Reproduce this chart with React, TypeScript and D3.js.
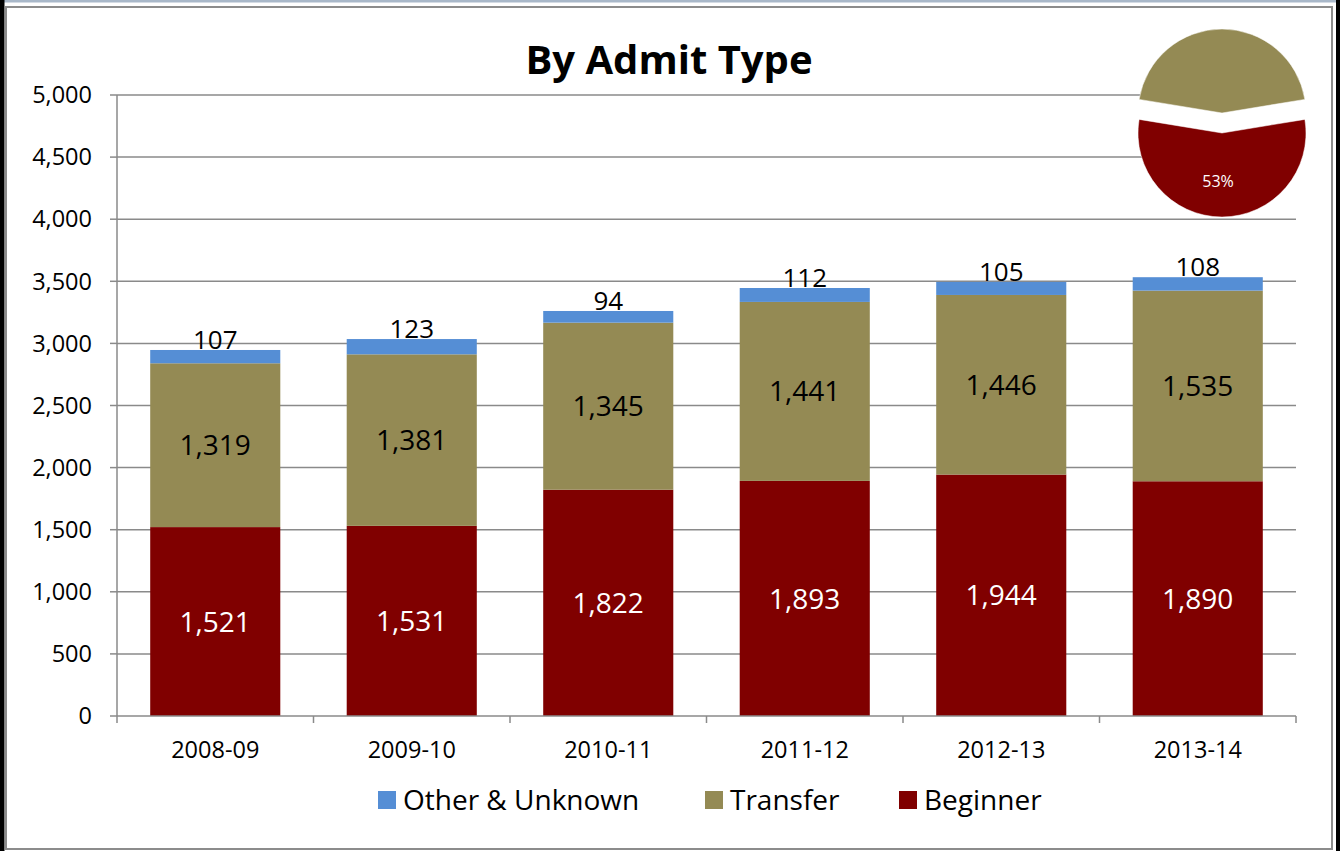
import React from "react";
import * as d3 from "d3";

const years = ["2008-09", "2009-10", "2010-11", "2011-12", "2012-13", "2013-14"];
const beginner = [1521, 1531, 1822, 1893, 1944, 1890];
const transfer = [1319, 1381, 1345, 1441, 1446, 1535];
const other = [107, 123, 94, 112, 105, 108];
const yTicks = [0, 500, 1000, 1500, 2000, 2500, 3000, 3500, 4000, 4500, 5000];
const seriesNames = ["Other & Unknown", "Transfer", "Beginner"];

const COLORS = { Beginner: "#800000", Transfer: "#948A54", Other: "#558ED5" };
const FONT = "'Open Sans', 'Noto Sans', sans-serif";
const GRID = "#8a8a8a";

export default function App() {
  const W = 1340, H = 851;
  const x0 = 117, x1 = 1296, yTop = 95, yBot = 716;
  const x = d3.scaleBand<string>().domain(years).range([x0, x1]).paddingInner(0.338).paddingOuter(0.169);
  const y = d3.scaleLinear().domain([0, 5000]).range([yBot, yTop]);
  const fmt = d3.format(",");

  const rows = years.map((yr, i) => ({ yr, Beginner: beginner[i], Transfer: transfer[i], Other: other[i] }));
  const stack = d3.stack<any>().keys(["Beginner", "Transfer", "Other"])(rows);

  // pie for last year (Transfer vs Beginner slices; label share of full total)
  const li = years.length - 1;
  const pieVals = [
    { k: "Transfer", v: transfer[li] },
    { k: "Beginner", v: beginner[li] },
  ];
  const total = beginner[li] + transfer[li] + other[li];
  const tAngle = (transfer[li] / (transfer[li] + beginner[li])) * Math.PI * 2;
  const pie = d3.pie<any>().value((d) => d.v).sort(null).startAngle(-tAngle / 2).endAngle(Math.PI * 2 - tAngle / 2);
  const arcs = pie(pieVals);
  const R = 84, pcx = 1222, pcy = 123, explode = 10;
  const arcGen = d3.arc<any>().innerRadius(0).outerRadius(R);

  const step = x.step();
  const boundaries = d3.range(years.length + 1).map((i) => x0 + i * step);

  return (
    <svg width={W} height={H} style={{ position: "fixed", left: 0, top: 0, background: "#fff" }}>
      {/* frame */}
      <rect x={0} y={0} width={W} height={H} fill="#fff" />
      <rect x={0} y={0} width={W} height={2.5} fill="#a9b8c9" />
      <rect x={0} y={0} width={4.5} height={H} fill="#000" />
      <rect x={1336} y={0} width={4} height={H} fill="#000" />
      <rect x={6} y={7} width={1326} height={842} fill="none" stroke="#8c8c8c" strokeWidth={2} />

      {/* title */}
      <text x={669} y={74} textAnchor="middle" fontFamily={FONT} fontWeight={700} fontSize={40} fill="#000">
        By Admit Type
      </text>

      {/* gridlines + y ticks */}
      {yTicks.map((t) => (
        <g key={t}>
          {t > 0 && <line x1={x0} x2={x1} y1={y(t)} y2={y(t)} stroke={GRID} strokeWidth={1.5} />}
          <line x1={110} x2={x0} y1={y(t)} y2={y(t)} stroke={GRID} strokeWidth={1.5} />
          <text x={92} y={y(t)} dy="0.35em" textAnchor="end" fontFamily={FONT} fontSize={23.5} fill="#000">
            {fmt(t)}
          </text>
        </g>
      ))}

      {/* bars */}
      {stack.map((s) => (
        <g key={s.key} fill={(COLORS as any)[s.key]}>
          {s.map((d, i) => (
            <rect key={i} x={x(years[i])!} width={x.bandwidth()} y={y(d[1])} height={y(d[0]) - y(d[1])} />
          ))}
        </g>
      ))}

      {/* axes */}
      <line x1={x0} x2={x0} y1={yTop} y2={yBot} stroke={GRID} strokeWidth={1.5} />
      <line x1={x0} x2={x1} y1={yBot} y2={yBot} stroke={GRID} strokeWidth={1.5} />
      {boundaries.map((bx, i) => (
        <line key={i} x1={bx} x2={bx} y1={yBot} y2={723} stroke={GRID} strokeWidth={1.5} />
      ))}
      {years.map((yr) => (
        <text key={yr} x={x(yr)! + x.bandwidth() / 2} y={758} textAnchor="middle" fontFamily={FONT} fontSize={23.5} fill="#000">
          {yr}
        </text>
      ))}

      {/* data labels */}
      {stack.map((s) =>
        s.map((d, i) => {
          const cx = x(years[i])! + x.bandwidth() / 2;
          const val = d[1] - d[0];
          if (s.key === "Other") {
            return (
              <text key={s.key + i} x={cx} y={y(d[1]) - 1} textAnchor="middle" fontFamily={FONT} fontSize={26} fill="#000">
                {fmt(val)}
              </text>
            );
          }
          return (
            <text key={s.key + i} x={cx} y={(y(d[0]) + y(d[1])) / 2} dy="0.36em" textAnchor="middle" fontFamily={FONT} fontSize={28}
              fill={s.key === "Beginner" ? "#fff" : "#000"}>
              {fmt(val)}
            </text>
          );
        })
      )}

      {/* legend */}
      {seriesNames.map((n, i) => {
        const lx = [378, 705, 899][i];
        const key = n === "Other & Unknown" ? "Other" : n;
        return (
          <g key={n}>
            <rect x={lx} y={791} width={18} height={18} fill={(COLORS as any)[key]} />
            <text x={lx + 25} y={800} dy="0.36em" fontFamily={FONT} fontSize={28} fill="#000">
              {n}
            </text>
          </g>
        );
      })}

      {/* pie */}
      {arcs.map((a) => {
        const mid = (a.startAngle + a.endAngle) / 2;
        const ox = Math.sin(mid) * explode, oy = -Math.cos(mid) * explode;
        const fill = (COLORS as any)[a.data.k];
        const lc = d3.arc<any>().innerRadius(R * 0.58).outerRadius(R * 0.58).centroid(a);
        return (
          <g key={a.data.k} transform={`translate(${pcx + ox},${pcy + oy})`}>
            <path d={arcGen(a)!} fill={fill} stroke="#fff" strokeWidth={0.5} />
            {a.data.k === "Beginner" && (
              <text x={lc[0] - 4} y={lc[1]} dy="0.36em" textAnchor="middle" fontFamily={FONT} fontSize={16} fill="#fff">
                {d3.format(".0%")(a.data.v / total)}
              </text>
            )}
          </g>
        );
      })}
    </svg>
  );
}
